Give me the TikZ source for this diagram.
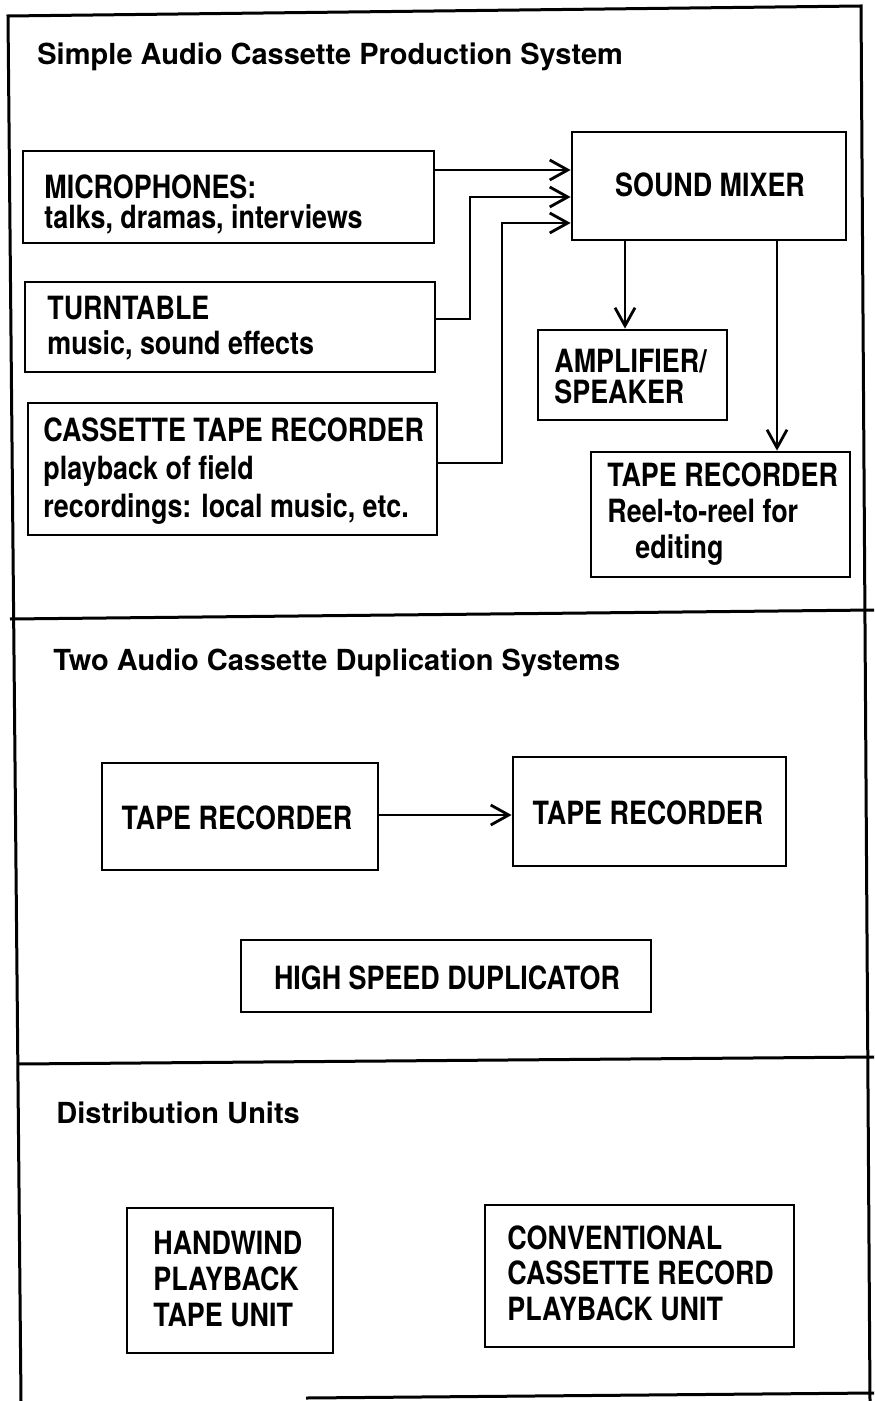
\documentclass[tikz,border=0pt]{standalone}
\usepackage{fontspec}
\setmainfont{TeX Gyre Heros}
\newfontfamily\bodyfont{TeX Gyre Heros}[FakeStretch=0.84]
\usetikzlibrary{arrows.meta}
\begin{document}
\begin{tikzpicture}[x=0.5pt,y=-0.5pt,
  box/.style={draw, line width=1.4pt, inner sep=0pt},
  txt/.style={inner sep=0pt, anchor=west, align=left, font=\bodyfont\bfseries\fontsize{16}{#1}\selectfont},
  txt/.default=18pt,
  ctxt/.style={inner sep=0pt, anchor=center, font=\bodyfont\bfseries\fontsize{16}{18}\selectfont},
  ttl/.style={inner sep=0pt, anchor=west, font=\bfseries\fontsize{14.5}{17}\selectfont},
  arr/.style={line width=1.4pt, -{Straight Barb[length=9pt,width=10pt,line width=1.4pt]}},
  rule/.style={line width=1.5pt}]
\useasboundingbox (0,0) rectangle (874,1401);
\clip (0,0) rectangle (874,1401);

% frame and dividers
\draw[rule] (21,1401) -- (8,16) -- (861,6) -- (870,1401);
\draw[rule] (10,619) -- (874,610);
\draw[rule] (17,1064) -- (874,1057);
\draw[rule] (306,1398) -- (874,1393);

% section 1
\node[ttl] (t1) at (37,57) {Simple Audio Cassette Production System};

\node[box, minimum width=205.5pt, minimum height=46pt] (mic) at (228.5,197) {};
\node[txt=15pt] (micT) at (44,204) {MICROPHONES:\\talks, dramas, interviews};

\node[box, minimum width=137pt, minimum height=54pt] (mixer) at (709,186) {};
\node[ctxt] (mixT) at (710,185) {SOUND MIXER};

\node[box, minimum width=205pt, minimum height=45pt] (tt) at (230,327) {};
\node[txt=17.5pt] (ttT) at (47,328) {TURNTABLE\\music, sound effects};

\node[box, minimum width=204.5pt, minimum height=66pt] (cas) at (232.5,469) {};
\node[txt=19pt] (casT) at (43,471) {CASSETTE TAPE RECORDER\\playback of field\\recordings: local music, etc.};

\node[box, minimum width=94.5pt, minimum height=45pt] (amp) at (632.5,375) {};
\node[txt=15.5pt] (ampT) at (554,377) {AMPLIFIER/\\SPEAKER};

\node[box, minimum width=129.5pt, minimum height=62.5pt] (reel) at (720.5,514.5) {};
\node[txt=18pt] (reelT) at (607,514) {TAPE RECORDER\\Reel-to-reel for\\\hspace*{14pt}editing};

\coordinate (mick) at (500,170);
\coordinate (ttj) at (470,319);
\coordinate (ttk) at (470,197);
\coordinate (casj) at (502,463);
\coordinate (cask) at (502,223);
\coordinate (ampk) at (625,0);
\coordinate (reelk) at (777,0);

\draw[arr] (mic.east |- mick) -- (mixer.west |- mick);
\draw[arr] (tt.east |- ttj) -- (ttj) -- (ttk) -- (mixer.west |- ttk);
\draw[arr] (cas.east |- casj) -- (casj) -- (cask) -- (mixer.west |- cask);
\draw[arr] (mixer.south -| ampk) -- (amp.north -| ampk);
\draw[arr] (mixer.south -| reelk) -- (reel.north -| reelk);

% section 2
\node[ttl] (t2) at (53,663) {Two Audio Cassette Duplication Systems};

\node[box, minimum width=138pt, minimum height=53.5pt] (trL) at (240,816.5) {};
\node[ctxt] (trLT) at (237,818) {TAPE RECORDER};

\node[box, minimum width=136.5pt, minimum height=54.5pt] (trR) at (649.5,811.5) {};
\node[ctxt] (trRT) at (648,813) {TAPE RECORDER};

\coordinate (dupk) at (0,815);
\draw[arr] (trL.east |- dupk) -- (trR.west |- dupk);

\node[box, minimum width=205pt, minimum height=36pt] (hsd) at (446,976) {};
\node[ctxt] (hsdT) at (447,978) {HIGH SPEED DUPLICATOR};

% section 3
\node[ttl] (t3) at (56,1113) {Distribution Units};

\node[box, minimum width=103pt, minimum height=72.5pt] (hw) at (230,1280.5) {};
\node[txt=18pt] (hwT) at (153,1279) {HANDWIND\\PLAYBACK\\TAPE UNIT};

\node[box, minimum width=154.5pt, minimum height=71pt] (conv) at (639.5,1276) {};
\node[txt=17.75pt] (convT) at (507,1273) {CONVENTIONAL\\CASSETTE RECORD\\PLAYBACK UNIT};
\end{tikzpicture}
\end{document}
